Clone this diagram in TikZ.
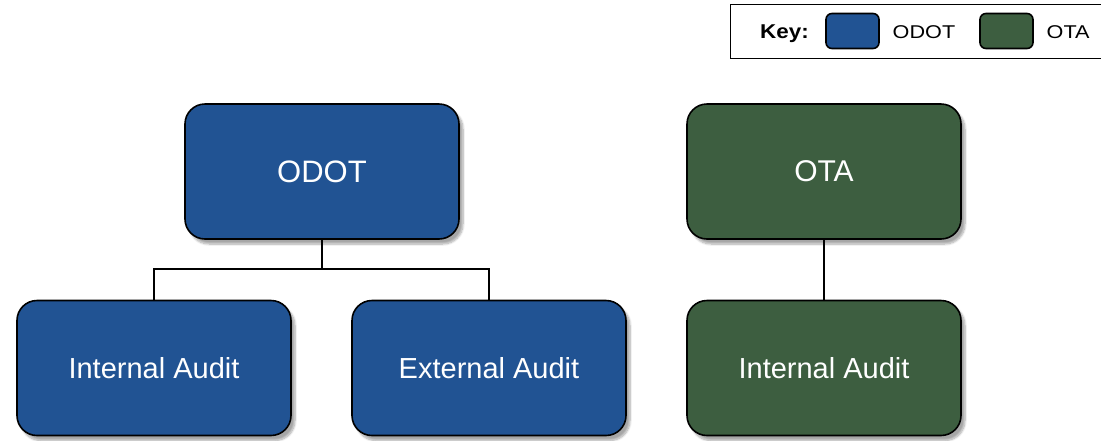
\documentclass[tikz,border=0pt]{standalone}
\usepackage{fontspec}
\setmainfont{Liberation Sans}
\usetikzlibrary{shadows.blur}
\definecolor{odotblue}{RGB}{33,83,147}
\definecolor{otagreen}{RGB}{61,94,64}
\begin{document}
\begin{tikzpicture}[x=1pt,y=-1pt,
  orgbox/.style={draw=black, line width=1.6pt, rounded corners=20pt,
    minimum width=274pt, minimum height=135pt, inner sep=0pt, text=white,
    font=\fontsize{29}{34}\selectfont,
    blur shadow={shadow xshift=4pt, shadow yshift=-5pt, shadow blur steps=8, shadow opacity=35}},
  conn/.style={draw=black, line width=1.6pt},
  swatch/.style={draw=black, line width=1.6pt, rounded corners=6pt, minimum width=53pt, minimum height=35pt, inner sep=0pt},
  keytext/.style={anchor=base west, inner sep=0pt, font=\fontsize{18.5}{20}\selectfont}]
\useasboundingbox (0,0) rectangle (1101,440);
% key
\node[draw=black, line width=1pt, minimum width=371pt, minimum height=54pt, inner sep=0pt, anchor=north west] (key) at (729.5,3.5) {};
\node[keytext, font=\fontsize{20}{22}\selectfont] (keylbl) at (760,38) {\scalebox{1.12}[1]{\bfseries Key:}};
\node[swatch, fill=odotblue] (sw1) at (852.5,31) {};
\node[keytext] (k1) at (892.5,38) {\scalebox{1.17}[1]{ODOT}};
\node[swatch, fill=otagreen] (sw2) at (1006.5,31) {};
\node[keytext] (k2) at (1046.5,38) {\scalebox{1.17}[1]{OTA}};
% org boxes
\node[orgbox, fill=odotblue, font=\fontsize{31}{36}\selectfont] (odot) at (322,171.5) {ODOT};
\node[orgbox, fill=otagreen, font=\fontsize{30}{36}\selectfont] (ota) at (824,171.5) {OTA};
\node[orgbox, fill=odotblue] (ia) at (154,368) {Internal Audit};
\node[orgbox, fill=odotblue] (ea) at (489,368) {External Audit};
\node[orgbox, fill=otagreen] (ia2) at (824,368) {Internal Audit};
% connectors
\coordinate (bus) at (322,269);
\draw[conn] (odot.south) -- (bus);
\draw[conn] (ia.north) -- (ia.north |- bus) -- (ea.north |- bus) -- (ea.north);
\draw[conn] (ota.south) -- (ia2.north);
\end{tikzpicture}
\end{document}
